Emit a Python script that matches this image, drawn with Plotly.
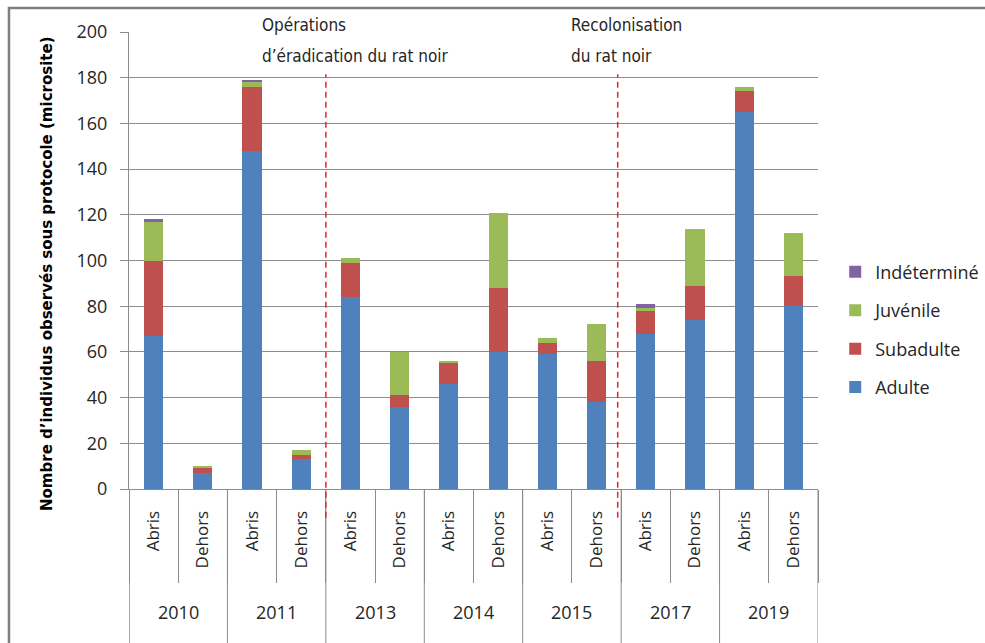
import plotly.graph_objects as go

# Survey data: individuals observed per stage, by year and site
years = ["2010", "2011", "2013", "2014", "2015", "2017", "2019"]
sites = ["Abris", "Dehors"]
adulte = [67, 7, 148, 13, 84, 36, 46, 60, 59, 38, 68, 74, 165, 80]
subadulte = [33, 2, 28, 2, 15, 5, 9, 28, 5, 18, 10, 15, 9, 13]
juvenile = [17, 1, 2, 2, 2, 19, 1, 33, 2, 16, 1, 25, 2, 19]
indetermine = [1, 0, 1, 0, 0, 0, 0, 0, 0, 0, 2, 0, 0, 0]
y_ticks = list(range(0, 201, 20))
event_lines = [["Opérations", "d’éradication du rat noir"], ["Recolonisation", "du rat noir"]]
event_positions = [3.5, 9.43]
event_label_x = [2.2, 8.48]

categories = [f"{y} {s}" for y in years for s in sites]
site_labels = [s for _ in years for s in sites]

series = [
    ("Adulte", adulte, "#4F81BD"),
    ("Subadulte", subadulte, "#C0504D"),
    ("Juvénile", juvenile, "#9BBB59"),
    ("Indéterminé", indetermine, "#8064A2"),
]

GRID = "#8c8c8c"
TEXT = "#262626"
BASE_FONT = "Open Sans, Liberation Sans, sans-serif"
NARROW_FONT = "Liberation Sans Narrow, Arial Narrow, DejaVu Sans Condensed, sans-serif"

fig = go.Figure()
for k, (name, vals, color) in enumerate(series):
    fig.add_trace(go.Bar(
        x=categories, y=vals, name=name, legendgroup=name,
        legendrank=len(series) - k,
        marker=dict(color=color, line=dict(width=0)),
    ))

fig.update_layout(
    width=985, height=643,
    margin=dict(l=129, r=167, t=32, b=154, autoexpand=False),
    barmode="stack", bargap=0.61,
    plot_bgcolor="white", paper_bgcolor="white",
    font=dict(family=BASE_FONT, size=18, color=TEXT),
    legend=dict(
        x=1.025, y=0.515, xanchor="left", yanchor="top",
        traceorder="grouped", tracegroupgap=12,
        font=dict(family=BASE_FONT, size=18, color=TEXT),
        bgcolor="rgba(0,0,0,0)",
    ),
)

fig.update_xaxes(
    type="category", range=[-0.5, 13.5],
    tickmode="array", tickvals=categories, ticktext=site_labels,
    tickangle=-90, tickfont=dict(size=17, color=TEXT),
    ticks="outside", tickson="boundaries", ticklen=93, tickwidth=1, tickcolor=GRID,
    ticklabelstandoff=14,
    showline=True, linecolor=GRID, linewidth=1, showgrid=False,
)
fig.update_yaxes(
    range=[0, 200], tickmode="array", tickvals=y_ticks,
    tickfont=dict(size=18, color=TEXT),
    ticks="outside", ticklen=8, tickcolor=GRID, ticklabelstandoff=9,
    showline=True, linecolor=GRID, linewidth=1,
    showgrid=True, gridcolor=GRID, gridwidth=1, zeroline=False,
)

shapes = []
# outer frame of the chart area
shapes.append(dict(type="rect", xref="paper", yref="paper",
                   x0=-0.1742, x1=1.5, y0=-0.5, y1=1.0526,
                   line=dict(color="#7f7f7f", width=2.5), layer="below"))
# category axis line extended through the label rows
shapes.append(dict(type="line", xref="x", yref="paper", x0=-0.5, x1=-0.5,
                   y0=0, y1=-0.34, line=dict(color=GRID, width=1)))
# year group dividers
for i in range(len(years) + 1):
    xb = 2 * i - 0.5
    shapes.append(dict(type="line", xref="x", yref="paper", x0=xb, x1=xb,
                       y0=0, y1=-0.34, line=dict(color=GRID, width=1)))
# event markers
for xp in event_positions:
    shapes.append(dict(type="line", xref="x", yref="paper", x0=xp, x1=xp,
                       y0=-0.063, y1=0.9076,
                       line=dict(color="#e8242c", width=1.5, dash="6px,4px")))
fig.update_layout(shapes=shapes)

annotations = []
for i, y in enumerate(years):
    annotations.append(dict(x=2 * i + 0.5, y=-0.2685, xref="x", yref="paper",
                            text=y, showarrow=False, xanchor="center", yanchor="middle",
                            font=dict(size=18, color=TEXT, family=BASE_FONT)))
for xl, lines in zip(event_label_x, event_lines):
    for line_text, yp in zip(lines, [1.0146, 0.947]):
        annotations.append(dict(x=xl, y=yp, xref="x", yref="paper", text=line_text,
                                showarrow=False, xanchor="left", yanchor="middle",
                                xshift=-2,
                                font=dict(size=17, color=TEXT, family=NARROW_FONT)))
annotations.append(dict(x=-0.119, y=0.4705, xref="paper", yref="paper",
                        text="Nombre d’individus observés sous protocole (microsite)",
                        textangle=-90, showarrow=False, xanchor="center", yanchor="middle",
                        font=dict(size=15, color="#000000",
                                  family="DejaVu Sans, Liberation Sans, sans-serif", weight="bold")))
fig.update_layout(annotations=annotations)

fig.write_html("out.html")
